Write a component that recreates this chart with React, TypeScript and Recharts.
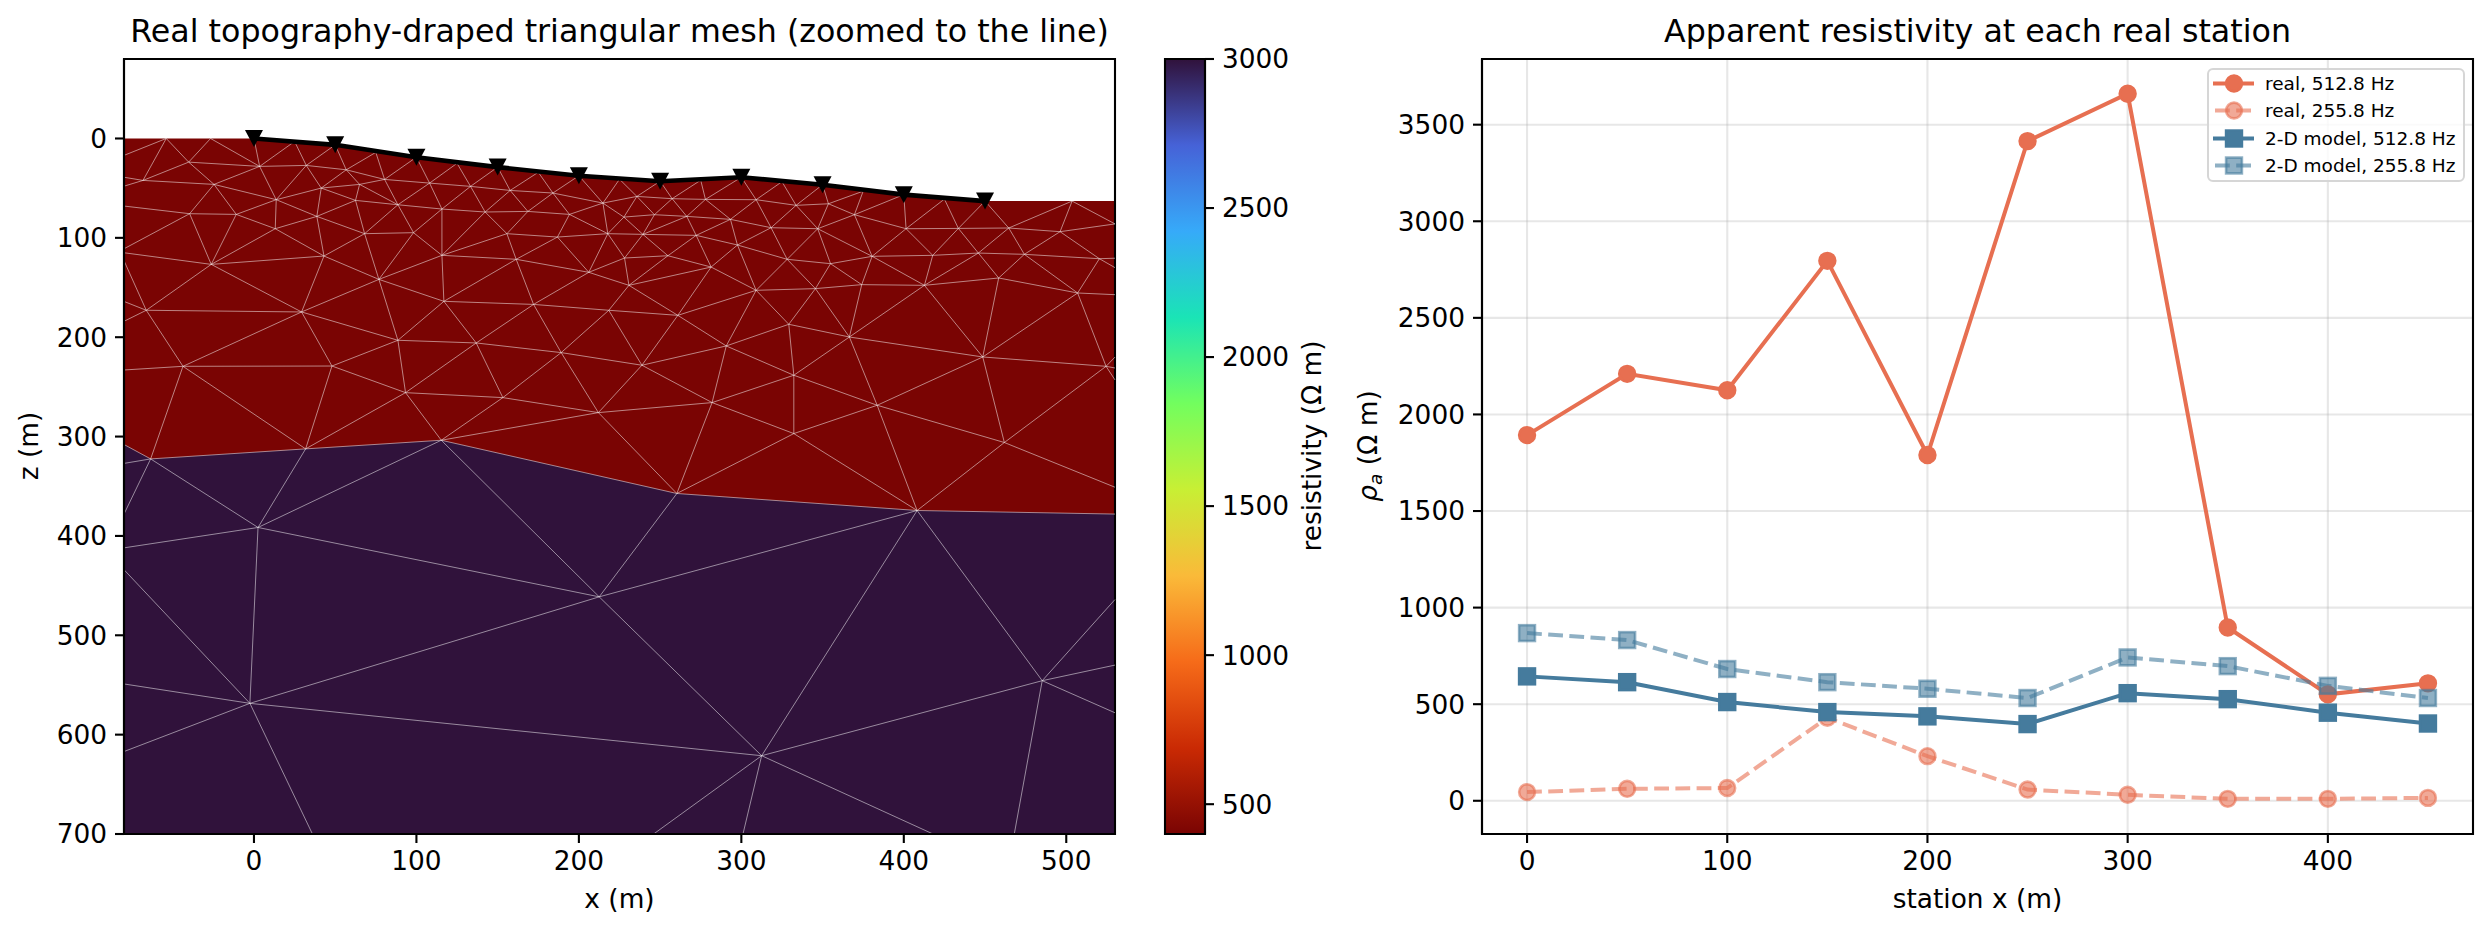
import React from 'react';
import {
  ComposedChart, Area, Line, XAxis, YAxis, CartesianGrid, Legend, ReferenceLine, ReferenceArea,
} from 'recharts';

const FONT = '"DejaVu Sans", sans-serif';
const ORANGE = '#E76F51';
const BLUE = '#457B9D';

// left panel: ground surface, layer interface and stations (x, z in metres)
const surfaceX = [-80, 0, 50, 100, 150, 200, 250, 300, 350, 400, 450, 530];
const surfaceZ = [0, 0, 6.4, 18.8, 28.8, 37.5, 43, 39, 46.5, 56.5, 63, 63];
const interfaceX = [-80, -63.6, 31.8, 115.3, 260.3, 408.2, 530];
const interfaceZ = [308, 322.5, 312.4, 303.7, 357.3, 374.4, 378];
const stationX = [0, 50, 100, 150, 200, 250, 300, 350, 400, 450];
const stationZ = [0, 6.4, 18.8, 28.8, 37.5, 43, 39, 46.5, 56.5, 63];

// mesh vertices
const meshNodes: Record<string, [number, number]> = {
  a0: [-54, 0], a1: [-26.7, 0], s0: [0, 0], s25: [25, 3], s50: [50, 6.4], s75: [75, 14], s100: [100, 18.8],
  s125: [125, 25], s150: [150, 28.8], s175: [175, 34], s200: [200, 37.5], s225: [225, 41], s250: [250, 43],
  s275: [275, 42], s300: [300, 39], s325: [325, 43.5], s350: [350, 46.5], s375: [375, 53], s400: [400, 56.5],
  s425: [425, 61], s450: [450, 63], s503: [503.6, 63],
  L17: [-80, 17], L39: [-80, 39], L48: [-80, 48], L68: [-80, 68], L111: [-80, 111], L115: [-80, 115],
  L123: [-80, 123], L164: [-80, 164], L184: [-80, 184], L233: [-80, 233], L327: [-80, 327], L378: [-80, 378],
  L412: [-80, 412], L434: [-80, 434], L549: [-80, 549], L617: [-80, 617],
  R87: [530, 86], R120: [530, 120.5], R130: [530, 130], R220: [530, 220], R231: [530, 231], R243: [530, 243],
  R351: [530, 351], R464: [530, 464], R530: [530, 530], R578: [530, 578],
  B36: [36, 700], B246: [246, 700], B301: [301, 700], B418: [418, 700], B468: [468, 700],
  b1: [-68.3, 42.2], b2: [-40.2, 23.8], b3: [3.5, 28.1], b4: [32.2, 27.1], b5: [56.8, 31.5], b6: [80.4, 41.2],
  b7: [108.1, 44.9], b8: [133.3, 48.2], b9: [157.7, 52.3], b10: [184, 54.9],
  c1: [-24.6, 46.2], c2: [13.7, 61.6], c3: [41.4, 49.9], c4: [65, 46.2], c5: [62.5, 62.3], c6: [88.6, 66.7],
  c7: [115.7, 71], c8: [142.3, 74], c9: [168.6, 73.4], c10: [194.2, 76.4],
  d1: [-39.6, 75.7], d2: [-10.9, 76.4], d3: [13.1, 90.8], d4: [38.7, 78.4], d5: [68.1, 95.8], d6: [98.2, 94.8],
  d7: [155.7, 95.8], d8: [186.8, 99.2],
  e1: [-26.3, 126.7], e2: [43.1, 118.3], e3: [76.9, 141.8], e4: [115.7, 117.6], e5: [161.4, 121.6], e6: [206.1, 134.7],
  f1: [-66.3, 172.9], f2: [29.3, 174.6], f3: [116.9, 163.9], f4: [172.1, 167],
  g1: [88.6, 203.1], g2: [136.8, 205.8], g3: [189.1, 215.5],
  h1: [-43.7, 229.3], h2: [48, 229], h3: [93.3, 255.8], h4: [153.2, 260.8], h5: [212, 275.9],
  k1: [235.7, 58.3], k2: [257.4, 60.6], k3: [277.9, 61.3], k4: [309.1, 61.6], k5: [333.7, 67.3], k6: [353.6, 65.7],
  k7: [369.6, 76.7], k8: [214.8, 65], k9: [227.7, 79.1], k10: [246.5, 76.7], k11: [266.4, 78.4], k12: [293.3, 81.4],
  k13: [318.3, 89.8], k14: [347, 90.8], k15: [401.4, 90.8], k16: [433.6, 90.5], k17: [464.6, 90.1], k18: [496.2, 93.8],
  k20: [217.8, 95.8], k21: [239.4, 96.5], k22: [272.2, 97.5], k23: [297.6, 107.2], k24: [228.1, 120.3], k25: [254.8, 118],
  k26: [281.4, 129.4], k27: [328.2, 121.6], k28: [354.9, 126], k29: [380.5, 118.6], k30: [417.8, 117.6], k31: [445.9, 115.3],
  k32: [474.2, 116.6], k33: [520.4, 121], k34: [230.8, 147.8], k35: [309.1, 152.8], k36: [345.6, 151.1], k37: [374.1, 147.1],
  k38: [412.7, 147.8], k39: [458.4, 140.4], k40: [507, 155.5], k41: [530, 157.2], k42: [218.4, 172.9], k43: [260.9, 178],
  k44: [329.2, 187], k45: [366.5, 199.8], k46: [448.6, 219.9], k47: [290.7, 208.8], k48: [238.8, 228.2], k49: [524.5, 229.3],
  q3: [282, 265.8], q4: [332.3, 238.3], q5: [332.3, 297], q6: [383.6, 268.5], q8: [461.9, 306],
  i0: [-80, 308], i1: [-63.6, 322.5], i2: [31.8, 312.4], i3: [115.3, 303.7], i4: [260.3, 357.3], i5: [408.2, 374.4], i6: [530, 378],
  m1: [2.5, 391.5], m2: [-2.5, 568.5], m3: [212.5, 461.3], m4: [312.5, 621.2], m5: [485.2, 545.7],
};

const meshEdges = `
L17-a0 a0-b1 a0-b2 a1-b2 a1-b3 s0-b3 s25-b3 s25-b4 s50-b4 s50-b5 s75-b5 s75-b6 s100-b6 s100-b7 s125-b7 s125-b8
s150-b8 s150-b9 s175-b9 s175-b10 s200-b10 s200-k8 s225-k8 s225-k1 s250-k1 s250-k2 s275-k2 s275-k3 s300-k3 s300-k4
s325-k4 s325-k5 s350-k5 s350-k6 s375-k6 s375-k7 s400-k7 s400-k15 s425-k15 s425-k16 s450-k16 s450-k17 s503-k17 s503-k18 s503-R87
L39-b1 L48-b1 b1-b2 b2-b3 b3-b4 b4-b5 b5-b6 b6-b7 b7-b8 b8-b9 b9-b10 b10-k8 k8-k1 k1-k2 k2-k3 k3-k4 k4-k5 k5-k6
b1-c1 b2-c1 b3-c1 b3-c2 b4-c2 b4-c3 b5-c3 b5-c4 b6-c4 b6-c6 b7-c6 b7-c7 b8-c7 b8-c8 b9-c8 b9-c9 b10-c9 b10-c10
k8-c10 k8-k9 k8-k20 k1-k9 k1-k10 k2-k10 k2-k11 k3-k11 k3-k12 k4-k12 k4-k13 k5-k13 k5-k14 k6-k14 k6-k7
c1-d1 c1-d2 c1-c2 c2-d2 c2-d3 c2-d4 c2-c3 c3-c4 c3-c5 c3-d4 c4-c5 c4-c6 c5-c6 c5-d4 c5-d5 c6-c7 c6-d5 c6-d6
c7-c8 c7-d6 c7-e4 c8-c9 c8-e4 c8-d7 c9-c10 c9-d7 c10-d8 c10-k20
L68-d1 L111-d1 d1-d2 d1-e1 d2-d3 d2-e1 d3-d4 d3-e1 d3-e2 d4-e2 d4-d5 d5-d6 d5-e2 d5-e3 d6-e3 d6-e4 d7-d8 d7-e4 d7-e5
d8-e5 d8-e6 d8-k20 L115-e1 e1-e2 e1-f1 e1-f2 e2-f2 e2-e3 e3-e4 e3-f2 e3-f3 e3-g1 e4-e5 e4-f3 e5-e6 e5-f3 e5-f4
e6-f4 e6-k20 e6-k24 e6-k34 L123-f1 L164-f1 L184-f1 f1-f2 f1-h1 f2-h1 f2-h2 f2-g1 f3-f4 f3-g1 f3-g2 f4-g2 f4-g3 f4-k42
g1-g2 g2-g3 g1-h2 g1-h3 g2-h3 g2-h4 g3-h4 g3-h5 g3-k42 g3-k48 L233-h1 h1-h2 h2-h3 h3-h4 h4-h5 h5-k48
k9-k10 k10-k11 k11-k12 k12-k13 k13-k14 k14-k7 k7-k15 k15-k16 k16-k17 k17-k18 k18-R87
k9-k20 k9-k21 k10-k21 k11-k21 k11-k22 k12-k22 k12-k23 k13-k23 k13-k27 k14-k27 k14-k28 k14-k29 k7-k29 k15-k29 k15-k30
k16-k30 k16-k31 k17-k31 k17-k32 k18-k32 k18-k33 k20-k21 k21-k22 k22-k23 k20-k24 k21-k24 k21-k25 k22-k25 k22-k26 k23-k26
k23-k27 k23-k35 k24-k25 k25-k26 k24-k34 k25-k34 k26-k34 k26-k35 k26-k43 k27-k28 k27-k35 k27-k36 k28-k29 k28-k36 k28-k37
k29-k37 k29-k30 k29-k38 k30-k31 k30-k38 k31-k32 k31-k38 k31-k39 k32-k33 k32-k39 k32-k40 k33-k40 k33-R120 k33-R130
k34-k42 k34-k43 k35-k36 k35-k43 k35-k44 k35-k47 k36-k37 k36-k44 k36-k45 k37-k38 k37-k45 k38-k39 k38-k45 k38-k46
k39-k40 k39-k46 k40-k41 k40-k46 k40-k49 k42-k43 k42-k48 k43-k47 k43-k48 k44-k45 k44-k47 k44-q4 k45-k46 k45-q4 k45-q6
k46-k49 k46-q6 k46-q8 k47-k48 k47-q3 k47-q4 k48-q3 q3-q4 q3-q5 q4-q5 q4-q6 q5-q6 q6-q8 q8-k49 k49-R220 k49-R231 k49-R243
i0-i1 i1-i2 i2-i3 i3-i4 i4-i5 i5-i6 L327-i1 L378-i1 h1-i1 h1-i2 h2-i2 h3-i2 h3-i3 h4-i3 h5-i3 h5-i4 h5-q3 q3-i4 q5-i4
q5-i5 q6-i5 q8-i5 q8-R351 i4-m3 i5-m3 i5-m4 i5-m5 m4-m5 m3-m4 m2-m3 m2-m4 m1-m3 m1-m2 L412-m1 L434-m2 L549-m2 L617-m2
m2-B36 m4-B246 m4-B301 m4-B418 m5-B468 m5-R464 m5-R530 m5-R578 i3-m3 i1-m1 i2-m1 i3-m1
`.trim().split(/\s+/).map((pair) => pair.split('-'));

const meshXTicks = [0, 100, 200, 300, 400, 500];
const meshZTicks = [0, 100, 200, 300, 400, 500, 600, 700];

// colour bar
const barTicks = [500, 1000, 1500, 2000, 2500, 3000];
const turboStops = ['#30123b', '#4662d7', '#36aaf9', '#1ae4b6', '#72fe5e', '#c8ef34', '#faba39', '#f66b19', '#ca2a04', '#7a0403'];

// right panel
const stations = [0, 50, 100, 150, 200, 250, 300, 350, 400, 450];
const real512 = [1893, 2210, 2125, 2795, 1790, 3415, 3660, 897, 551, 608];
const real256 = [45, 62, 66, 430, 231, 58, 31, 10, 10, 15];
const model512 = [644, 614, 511, 459, 437, 397, 557, 526, 456, 400];
const model256 = [868, 832, 682, 614, 580, 532, 742, 697, 595, 532];
const stationTicks = [0, 100, 200, 300, 400];
const rhoTicks = [0, 500, 1000, 1500, 2000, 2500, 3000, 3500];

const surfaceRows = surfaceX.map((x, i) => ({ x, z: surfaceZ[i] }));
const interfaceRows = interfaceX.map((x, i) => ({ x, z: interfaceZ[i] }));
const stationRows = stationX.map((x, i) => ({ x, z: stationZ[i] }));
const rhoRows = stations.map((x, i) => ({
  x, real512: real512[i], real256: real256[i], model512: model512[i], model256: model256[i],
}));

const seriesDefs = [
  { key: 'real512', name: 'real, 512.8 Hz', color: ORANGE, marker: 'circle', faded: false },
  { key: 'real256', name: 'real, 255.8 Hz', color: ORANGE, marker: 'circle', faded: true },
  { key: 'model512', name: '2-D model, 512.8 Hz', color: BLUE, marker: 'square', faded: false },
  { key: 'model256', name: '2-D model, 255.8 Hz', color: BLUE, marker: 'square', faded: true },
];

const tickStyle = { fontSize: 26.4, fill: '#000', fontFamily: FONT };
const axisLineStyle = { stroke: '#000', strokeWidth: 2.1 };

const StationMarker = (props: any) => {
  const { cx, cy, index } = props;
  if (cx == null || cy == null) return null;
  return <polygon key={index} points={`${cx - 9},${cy - 8.5} ${cx + 9},${cy - 8.5} ${cx},${cy + 8.5}`} fill="#000" />;
};

const markerShape = (marker: string, color: string, faded: boolean, cx: number, cy: number, key?: number) => {
  const opacity = faded ? 0.6 : 1;
  const shared = { fill: color, fillOpacity: opacity, stroke: color, strokeOpacity: opacity, strokeWidth: 2.6 };
  if (marker === 'circle') return <circle key={key} cx={cx} cy={cy} r={7.9} {...shared} />;
  return <rect key={key} x={cx - 7.9} y={cy - 7.9} width={15.8} height={15.8} {...shared} />;
};

const LegendBox = ({ payload }: any) => (
  <div style={{
    width: 258, height: 114, boxSizing: 'border-box', border: '2px solid #d6d6d6', borderRadius: 6,
    background: 'rgba(255,255,255,0.8)',
  }}>
    {seriesDefs.map((def) => (
      <div key={def.key} style={{ display: 'flex', alignItems: 'center', height: 27.3 }}>
        <svg width={56} height={27} style={{ flex: 'none' }}>
          <line
            x1={def.faded ? 6 : 4}
            x2={def.faded ? 42 : 45}
            y1={13.5}
            y2={13.5}
            stroke={def.color}
            strokeWidth={4}
            strokeOpacity={def.faded ? 0.6 : 1}
            strokeDasharray={def.faded ? '14.8 6.4' : undefined}
          />
          {markerShape(def.marker, def.color, def.faded, 25, 13.5)}
        </svg>
        <span style={{ fontFamily: FONT, fontSize: 18.5, color: '#000', whiteSpace: 'nowrap' }}>
          {(payload || []).find((entry: any) => entry.dataKey === def.key)?.value ?? def.name}
        </span>
      </div>
    ))}
  </div>
);

const MeshPanel: React.FC = () => (
  <ComposedChart width={1140} height={934} margin={{ top: 59, right: 25, left: 0, bottom: 0 }}>
    <XAxis
      dataKey="x" type="number" domain={[-80, 530]} ticks={meshXTicks} allowDataOverflow interval={0} height={100}
      tick={tickStyle} tickSize={9} tickMargin={8} tickLine={axisLineStyle} axisLine={axisLineStyle}
    />
    <YAxis
      type="number" reversed domain={[-80, 700]} ticks={meshZTicks} allowDataOverflow interval={0} width={124}
      tick={tickStyle} tickSize={9} tickMargin={8} tickLine={axisLineStyle} axisLine={axisLineStyle}
    />
    <Area data={surfaceRows} dataKey="z" type="linear" baseValue={700} fill="#7a0403" fillOpacity={1} stroke="none" dot={false} activeDot={false} isAnimationActive={false} />
    <Area data={interfaceRows} dataKey="z" type="linear" baseValue={700} fill="#30123b" fillOpacity={1} stroke="none" dot={false} activeDot={false} isAnimationActive={false} />
    {meshEdges.map(([from, to]) => (
      <ReferenceLine
        key={`${from}-${to}`}
        segment={[
          { x: meshNodes[from][0], y: meshNodes[from][1] },
          { x: meshNodes[to][0], y: meshNodes[to][1] },
        ]}
        stroke="#fff"
        strokeOpacity={0.6}
        strokeWidth={0.85}
        ifOverflow="visible"
      />
    ))}
    <Line data={stationRows} dataKey="z" type="linear" stroke="#000" strokeWidth={4.6} dot={<StationMarker />} activeDot={false} isAnimationActive={false} />
    <ReferenceArea x1={-80} x2={530} y1={-80} y2={700} fill="none" stroke="#000" strokeWidth={2.1} ifOverflow="visible" />
    <text x={619.5} y={42} textAnchor="middle" fontSize={31.7} fontFamily={FONT} fill="#000">Real topography-draped triangular mesh (zoomed to the line)</text>
    <text x={619.5} y={908} textAnchor="middle" fontSize={26.4} fontFamily={FONT} fill="#000">x (m)</text>
    <text transform="translate(38,446) rotate(-90)" textAnchor="middle" fontSize={26.4} fontFamily={FONT} fill="#000">z (m)</text>
  </ComposedChart>
);

const ColorBar: React.FC = () => (
  <ComposedChart width={240} height={934} data={[{ x: 0 }]} margin={{ top: 59, right: 0, left: 25, bottom: 100 }}>
    <defs>
      <linearGradient id="turboBar" x1="0" y1="0" x2="0" y2="1">
        {turboStops.map((color, i) => (
          <stop key={color} offset={`${(i / (turboStops.length - 1)) * 100}%`} stopColor={color} />
        ))}
      </linearGradient>
    </defs>
    <XAxis dataKey="x" type="number" domain={[0, 1]} hide />
    <YAxis
      orientation="right" type="number" domain={[400, 3000]} ticks={barTicks} allowDataOverflow interval={0} width={175}
      tick={tickStyle} tickSize={9} tickMargin={8} tickLine={axisLineStyle} axisLine={axisLineStyle}
    />
    <ReferenceArea x1={0} x2={1} y1={400} y2={3000} fill="url(#turboBar)" fillOpacity={1} stroke="#000" strokeWidth={2.1} ifOverflow="visible" />
    <text transform="translate(181,446) rotate(-90)" textAnchor="middle" fontSize={26.4} fontFamily={FONT} fill="#000">resistivity (Ω m)</text>
  </ComposedChart>
);

const StationPanel: React.FC = () => (
  <ComposedChart width={1152} height={934} data={rhoRows} margin={{ top: 59, right: 19, left: 0, bottom: 0 }}>
    <CartesianGrid stroke="#b0b0b0" strokeOpacity={0.3} strokeWidth={2.1} verticalValues={stationTicks} horizontalValues={rhoTicks} />
    <XAxis
      dataKey="x" type="number" domain={[-22.5, 472.5]} ticks={stationTicks} allowDataOverflow interval={0} height={100}
      tick={tickStyle} tickSize={9} tickMargin={8} tickLine={axisLineStyle} axisLine={axisLineStyle}
    />
    <YAxis
      type="number" domain={[-172, 3840]} ticks={rhoTicks} allowDataOverflow interval={0} width={142}
      tick={tickStyle} tickSize={9} tickMargin={8} tickLine={axisLineStyle} axisLine={axisLineStyle}
    />
    {seriesDefs.map((s) => (
      <Line
        key={s.key}
        dataKey={s.key}
        name={s.name}
        type="linear"
        stroke={s.color}
        strokeWidth={4}
        strokeOpacity={s.faded ? 0.6 : 1}
        strokeDasharray={s.faded ? '14.8 6.4' : undefined}
        dot={(p: any) => markerShape(s.marker, s.color, s.faded, p.cx, p.cy, p.index)}
        activeDot={false}
        isAnimationActive={false}
      />
    ))}
    <ReferenceArea x1={-22.5} x2={472.5} y1={-172} y2={3840} fill="none" stroke="#000" strokeWidth={2.1} ifOverflow="visible" />
    <Legend
      layout="vertical"
      align="center"
      verticalAlign="middle"
      content={<LegendBox />}
      wrapperStyle={{ left: 867, top: 68, right: 'auto', bottom: 'auto', width: 258, height: 114 }}
    />
    <text x={637.5} y={42} textAnchor="middle" fontSize={31.7} fontFamily={FONT} fill="#000">Apparent resistivity at each real station</text>
    <text x={637.5} y={908} textAnchor="middle" fontSize={26.4} fontFamily={FONT} fill="#000">station x (m)</text>
    <text transform="translate(36.5,446) rotate(-90)" textAnchor="middle" fontSize={26.4} fontFamily={FONT} fill="#000">
      <tspan fontStyle="italic">ρ</tspan>
      <tspan fontStyle="italic" fontSize={18.5} dy={5}>a</tspan>
      <tspan dy={-5}> (Ω m)</tspan>
    </text>
  </ComposedChart>
);

const App: React.FC = () => (
  <div style={{ position: 'absolute', left: 0, top: 0, width: 2492, height: 934, background: '#fff', overflow: 'hidden' }}>
    <div style={{ position: 'absolute', left: 0, top: 0 }}><MeshPanel /></div>
    <div style={{ position: 'absolute', left: 1140, top: 0 }}><ColorBar /></div>
    <div style={{ position: 'absolute', left: 1340, top: 0 }}><StationPanel /></div>
  </div>
);

export default App;
